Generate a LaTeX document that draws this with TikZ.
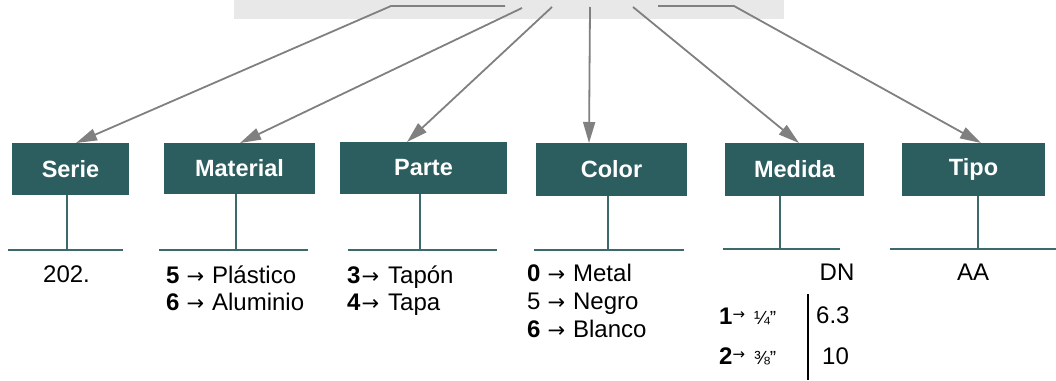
\documentclass[tikz,border=0pt]{standalone}
\usepackage{fontspec}
\setmainfont{Liberation Sans}
\newfontfamily\arrfont{DejaVu Sans}
\usetikzlibrary{arrows.meta}
\definecolor{teal1}{RGB}{44,94,96}
\definecolor{tealline}{RGB}{60,105,108}
\definecolor{arrgray}{RGB}{128,128,128}
\definecolor{topgray}{RGB}{232,232,232}
\newcommand{\ra}{{\arrfont\fontsize{21}{22}\selectfont →}}
\newcommand{\sra}{\raisebox{5pt}{\arrfont\fontsize{15}{16}\selectfont →}}
\tikzset{
  hdr/.style={fill=teal1, text=white, font=\fontsize{23.5}{26}\selectfont\bfseries, inner sep=0pt, anchor=center},
  conn/.style={draw=arrgray, line width=1.8pt, -{Triangle[length=21pt,width=12pt]}},
  stem/.style={draw=tealline, line width=1.8pt},
  body/.style={font=\fontsize{24}{26}\selectfont, inner sep=0pt, anchor=base west}
}
\begin{document}
\begin{tikzpicture}[x=1pt,y=-1pt]
\useasboundingbox (0,0) rectangle (1056,380);
% top gray bar
\fill[topgray] (234,0) rectangle (784,19);
% header boxes
\node[hdr, minimum width=117pt, minimum height=52pt] (serie) at (70.5,169) {Serie};
\node[hdr, minimum width=151pt, minimum height=51pt] (material) at (239.5,168.5) {Material};
\node[hdr, minimum width=167pt, minimum height=52pt] (parte) at (423.5,168) {Parte};
\node[hdr, minimum width=151pt, minimum height=53pt] (color) at (611.5,169.5) {Color};
\node[hdr, minimum width=139pt, minimum height=53pt] (medida) at (794.5,169.5) {Medida};
\node[hdr, minimum width=143pt, minimum height=53pt] (tipo) at (973.5,169.5) {Tipo};
% connector start points
\coordinate (a1) at (505,6);
\coordinate (a1b) at (391,6);
\coordinate (a2) at (522,8);
\coordinate (a3) at (552,7);
\coordinate (a4) at (590,7);
\coordinate (a5) at (633,7);
\coordinate (a6) at (658,6);
\coordinate (a6b) at (734,6);
% connector tips
\coordinate (t1) at (76,143);
\coordinate (t2) at (240,143);
\coordinate (t3) at (407,142);
\coordinate (t4) at (589,143);
\coordinate (t5) at (799,143);
\coordinate (t6) at (981,143);
\draw[conn] (a1) -- (a1b) -- (t1);
\draw[conn] (a2) -- (t2);
\draw[conn] (a3) -- (t3);
\draw[conn] (a4) -- (t4);
\draw[conn] (a5) -- (t5);
\draw[conn] (a6) -- (a6b) -- (t6);
% stems and bars
\coordinate (b1l) at (8,250); \coordinate (b1r) at (123,250);
\coordinate (b2l) at (159,250); \coordinate (b2r) at (308,250);
\coordinate (b3l) at (348,250); \coordinate (b3r) at (497,250);
\coordinate (b4l) at (534,250); \coordinate (b4r) at (684,250);
\coordinate (b5l) at (723,249); \coordinate (b5r) at (840,249);
\coordinate (b6l) at (890,249); \coordinate (b6r) at (1056,249);
\draw[stem] (serie.south -| 67,0) -- (b1l -| 67,0);
\draw[stem] (material.south -| 236,0) -- (b2l -| 236,0);
\draw[stem] (parte.south -| 420,0) -- (b3l -| 420,0);
\draw[stem] (color.south -| 608,0) -- (b4l -| 608,0);
\draw[stem] (medida.south -| 780,0) -- (b5l -| 780,0);
\draw[stem] (tipo.south -| 978,0) -- (b6l -| 978,0);
\draw[stem] (b1l) -- (b1r);
\draw[stem] (b2l) -- (b2r);
\draw[stem] (b3l) -- (b3r);
\draw[stem] (b4l) -- (b4r);
\draw[stem] (b5l) -- (b5r);
\draw[stem] (b6l) -- (b6r);
% texts
\node[body] (t202) at (43,282) {202.};
\node[body] (m1) at (166,283) {\textbf{5}\hspace{7pt}\ra\hspace{8pt}Plástico};
\node[body] (m2) at (166,310) {\textbf{6}\hspace{7pt}\ra\hspace{8pt}Aluminio};
\node[body] (p1) at (347,283) {\textbf{3}\hspace{1pt}\ra\hspace{9pt}Tapón};
\node[body] (p2) at (347,310) {\textbf{4}\hspace{1pt}\ra\hspace{9pt}Tapa};
\node[body] (c1) at (527,281) {\textbf{0}\hspace{7pt}\ra\hspace{8pt}Metal};
\node[body] (c2) at (527,309) {5\hspace{7pt}\ra\hspace{8pt}Negro};
\node[body] (c3) at (527,337) {\textbf{6}\hspace{7pt}\ra\hspace{8pt}Blanco};
\node[body, anchor=base] (dn) at (837,280) {DN};
\node[body, anchor=base] (aa) at (973,280) {AA};
\node[body] (s1) at (719,324) {\textbf{1}\sra\hspace{9pt}{\fontsize{19}{20}\selectfont ¼”}};
\node[body] (s2) at (719,364) {\textbf{2}\sra\hspace{9pt}{\fontsize{19}{20}\selectfont ⅜”}};
\node[body] (v1) at (816,323) {6.3};
\node[body] (v2) at (822,364) {10};
\coordinate (vl1) at (808,294);
\coordinate (vl2) at (808,380);
\draw[black, line width=2pt] (vl1) -- (vl2);
\end{tikzpicture}
\end{document}
